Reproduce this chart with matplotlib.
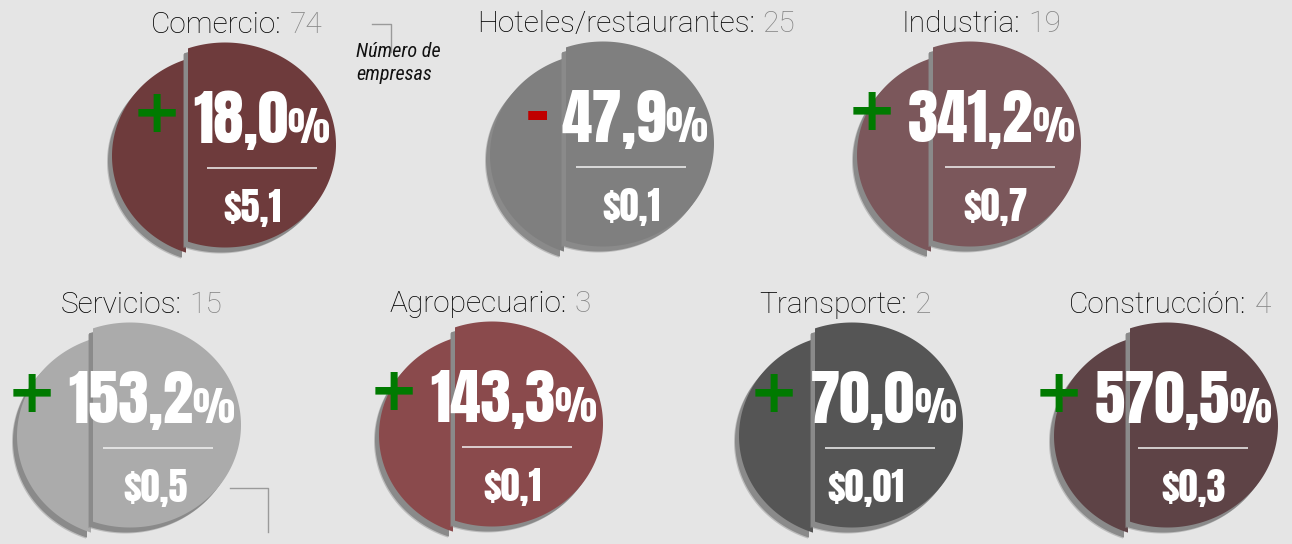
import matplotlib
matplotlib.use("Agg")
import matplotlib.pyplot as plt
from matplotlib.patches import Polygon
import numpy as np

# ---------------- data ----------------
sectors = ["Comercio", "Hoteles/restaurantes", "Industria",
           "Servicios", "Agropecuario", "Transporte", "Construcción"]
companies = [74, 25, 19, 15, 3, 2, 4]
change_pct = [18.0, -47.9, 341.2, 153.2, 143.3, 70.0, 570.5]
amounts = ["$5,1", "$0,1", "$0,7", "$0,5", "$0,1", "$0,01", "$0,3"]
colors = ["#6e3b3c", "#7f7f7f", "#7b575b", "#ababab",
          "#8a4a4c", "#555555", "#5e4346"]
note_text = "Número de\nempresas"

# ---------------- layout (pixels) ----------------
W, H = 1292, 544
centers = [(225, 145), (603, 144), (970, 144),
           (130, 425), (492, 424), (852, 425), (1167, 425)]
title_dx = [12, 33, 11, 11, -2, -7, 3]
line_dx = [9, 0, 2, 0, -3, 0, -2]
amount_dx = [27, 28, 26, 26, 20, 14, 27]
A, B = 111, 102.5          # ellipse semi axes
CHORD = 37                 # chord offset left of centre
LEFT_SHIFT = (-2, 11)
SHADOW = (-4, 5)
BG = "#e5e5e5"

fig = plt.figure(figsize=(W / 100, H / 100), dpi=100)
fig.patch.set_facecolor(BG)
ax = fig.add_axes([0, 0, 1, 1])
ax.set_xlim(0, W)
ax.set_ylim(H, 0)
ax.axis("off")
ax.set_facecolor(BG)

TT = np.arccos(-CHORD / A)


def piece(cx, cy, t0, t1, dx, dy, **kw):
    t = np.linspace(t0, t1, 160)
    pts = np.column_stack([cx + dx + A * np.cos(t), cy + dy + B * np.sin(t)])
    return Polygon(pts, closed=True, linewidth=0, **kw)


fig.canvas.draw()
renderer = fig.canvas.get_renderer()


def width_of(t):
    return t.get_window_extent(renderer).width


num_font = ["Anton", "Oswald", "Bebas Neue", "Fjalla One",
            "Open Sans Condensed", "DejaVu Sans"]
title_font = ["Roboto", "Liberation Sans", "DejaVu Sans"]
note_font = ["Roboto Condensed", "Open Sans Condensed", "DejaVu Sans"]

for i, (cx, cy) in enumerate(centers):
    col = colors[i]
    lx, ly = LEFT_SHIFT
    sx, sy = SHADOW
    # left segment + shadow
    ax.add_patch(piece(cx, cy, TT, 2 * np.pi - TT, lx + sx - 1, ly + sy + 1,
                       facecolor="#8c8c8c", alpha=0.45, zorder=1))
    ax.add_patch(piece(cx, cy, TT, 2 * np.pi - TT, lx + sx, ly + sy,
                       facecolor="#8a8a8a", zorder=1.1))
    ax.add_patch(piece(cx, cy, TT, 2 * np.pi - TT, lx, ly,
                       facecolor=col, zorder=2))
    # right segment + shadow
    ax.add_patch(piece(cx, cy, -TT, TT, sx - 1, sy + 1,
                       facecolor="#8c8c8c", alpha=0.45, zorder=3))
    ax.add_patch(piece(cx, cy, -TT, TT, sx, sy,
                       facecolor="#8a8a8a", zorder=3.1))
    ax.add_patch(piece(cx, cy, -TT, TT, 0, 0, facecolor=col, zorder=4))

    # percentage
    v = change_pct[i]
    pct_txt = f"{abs(v):.1f}".replace(".", ",")
    right = cx + 104
    base = cy - 2
    tp = ax.text(right, base, "%", family=num_font, weight="bold",
                 fontsize=28.5, color="white", ha="right", va="baseline",
                 zorder=6)
    wp = width_of(tp)
    tn = ax.text(right - wp + 1, base, pct_txt, family=num_font,
                 weight="bold", fontsize=44, color="white", ha="right",
                 va="baseline", zorder=6)
    wn = width_of(tn)
    left = right - wp + 1 - wn
    if v >= 0:
        ax.text(left - 11, cy - 30, "+", family="DejaVu Sans", weight="bold",
                fontsize=43, color="#007a00", ha="right", va="center",
                zorder=7)
    else:
        ax.text(left - 11, cy - 28, "-", family="DejaVu Sans", weight="bold",
                fontsize=44, color="#c00000", ha="right", va="center",
                zorder=7)

    # separator line
    ax.plot([cx - 27 + line_dx[i], cx + 83 + line_dx[i]], [cy + 23, cy + 23],
            color="#f2f2f2", lw=1.1, zorder=6, solid_capstyle="butt")
    # amount
    ax.text(cx + amount_dx[i], cy + 77, amounts[i], family=num_font,
            weight="bold", fontsize=27.5, color="white", ha="center",
            va="baseline", zorder=6)

    # title
    ty = cy - 112
    t1 = ax.text(0, ty, sectors[i] + ":", family=title_font, weight="light",
                 fontsize=21.5, color="#000000", ha="left", va="baseline",
                 zorder=6)
    t2 = ax.text(0, ty, str(companies[i]), family=title_font, weight="light",
                 fontsize=21.5, color="#858585", ha="left", va="baseline",
                 zorder=6)
    w1, w2 = width_of(t1), width_of(t2)
    gap = 8
    x0 = cx + title_dx[i] - (w1 + gap + w2) / 2
    t1.set_x(x0)
    t2.set_x(x0 + w1 + gap)

# annotation
ax.text(356, 80, note_text, family=note_font,
        style="italic", fontsize=14.5, color="#111111", ha="left",
        va="baseline", linespacing=1.25, zorder=6)
ax.plot([372, 391, 391], [24, 24, 52], color="#9a9a9a", lw=1, zorder=6)
ax.plot([230, 268, 268], [488, 488, 532], color="#9a9a9a", lw=1, zorder=6)

fig.savefig("out.png", dpi=100, facecolor=BG)
